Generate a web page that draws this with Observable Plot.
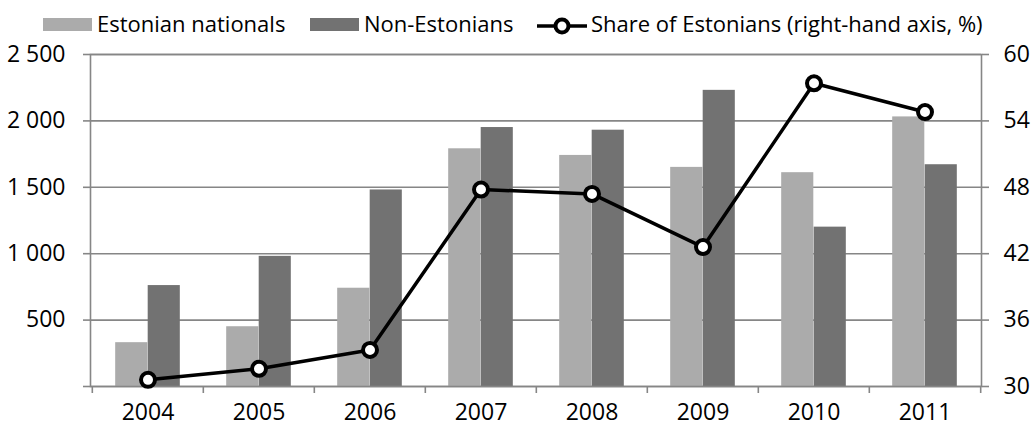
<!DOCTYPE html>
<html>
<head>
<meta charset="utf-8">
<script src="https://cdn.jsdelivr.net/npm/d3@7"></script>
<script src="https://cdn.jsdelivr.net/npm/@observablehq/plot@0.6"></script>
<style>
  html, body { margin: 0; padding: 0; background: #fff; }
  #wrap { position: relative; width: 1035px; height: 429px; font-family: "Open Sans", sans-serif; color: #000; }
  .lg { position: absolute; font-size: 22px; line-height: normal; white-space: nowrap; }
  .sw { position: absolute; top: 18px; width: 49px; height: 13px; }
  #chart { position: absolute; left: 0; top: 0; }
</style>
</head>
<body>
<div id="wrap">
  <div id="chart"></div>
  <div class="sw" style="left:43px;background:#ababab"></div>
  <div class="lg" style="left:97px;top:8px">Estonian nationals</div>
  <div class="sw" style="left:310px;background:#727272"></div>
  <div class="lg" style="left:364px;top:8px">Non-Estonians</div>
  <svg class="lg" style="left:536px;top:14px" width="52" height="24">
    <line x1="1" x2="51" y1="12" y2="12" stroke="#000" stroke-width="3.5"/>
    <circle cx="26" cy="12" r="6.5" fill="#fff" stroke="#000" stroke-width="4"/>
  </svg>
  <div class="lg" style="left:591px;top:8px">Share of Estonians (right-hand axis, %)</div>
</div>
<script>
const years = ["2004", "2005", "2006", "2007", "2008", "2009", "2010", "2011"];
const estonians = [330, 450, 740, 1790, 1740, 1650, 1610, 2030];
const nonEstonians = [760, 980, 1480, 1950, 1930, 2230, 1200, 1670];
const shareEstonians = [30.6, 31.6, 33.3, 47.8, 47.4, 42.6, 57.4, 54.8];
const leftTicks = [0, 500, 1000, 1500, 2000, 2500];
const rightTicks = [30, 36, 42, 48, 54, 60];

const W = 1035, H = 429, mL = 90, mR = 54, mT = 54, mB = 43;
const bw = (W - mL - mR) / years.length;
const barW = 32.5;
const gray = "#868686";
const lightC = "#ababab", darkC = "#727272";

// right axis (30..60) mapped onto left axis (0..2500)
const toY = s => (s - 30) * 2500 / 30;
const fromY = v => Math.round(v * 30 / 2500 + 30);
const fmt = v => d3.format(",")(v).replace(/,/g, "\u00a0");

const rows = years.map((y, i) => ({year: y, est: estonians[i], non: nonEstonians[i], share: shareEstonians[i], sy: toY(shareEstonians[i])}));

const chart = Plot.plot({
  width: W, height: H,
  marginLeft: mL, marginRight: mR, marginTop: mT, marginBottom: mB,
  style: {fontFamily: "Open Sans, sans-serif", fontSize: "23px", color: "#000", background: "transparent", overflow: "visible"},
  x: {type: "band", domain: years, padding: 0, axis: null},
  y: {domain: [0, 2500], axis: null},
  marks: [
    Plot.ruleY(leftTicks, {stroke: gray, strokeWidth: 1.6}),
    Plot.barY(rows, {x: "year", y: "est", fill: lightC, insetLeft: bw / 2 - barW, insetRight: bw / 2}),
    Plot.barY(rows, {x: "year", y: "non", fill: darkC, insetLeft: bw / 2, insetRight: bw / 2 - barW}),
    Plot.frame({stroke: gray, strokeWidth: 1.6}),
    Plot.axisY(leftTicks, {anchor: "left", tickSize: 7, tickPadding: 18, stroke: gray, strokeWidth: 1.6, tickFormat: d => d === 0 ? "" : fmt(d), label: null, fill: "#000"}),
    Plot.axisY(rightTicks.map(toY), {anchor: "right", tickSize: 7, tickPadding: 15, stroke: gray, strokeWidth: 1.6, tickFormat: d => String(fromY(d)), label: null, fill: "#000"}),
    Plot.axisX(years, {anchor: "bottom", tickSize: 7, text: null, dx: -bw / 2, stroke: gray, strokeWidth: 1.6, label: null}),
    Plot.axisX([years[years.length - 1]], {anchor: "bottom", tickSize: 7, text: null, dx: bw / 2, stroke: gray, strokeWidth: 1.6, label: null}),
    Plot.axisX(years, {anchor: "bottom", tickSize: 0, tickPadding: 17, label: null, fill: "#000"}),
    Plot.line(rows, {x: "year", y: "sy", stroke: "#000", strokeWidth: 3.5}),
    Plot.dot(rows, {x: "year", y: "sy", r: 7, fill: "#fff", stroke: "#000", strokeWidth: 4})
  ]
});
document.getElementById("chart").appendChild(chart);
</script>
</body>
</html>
